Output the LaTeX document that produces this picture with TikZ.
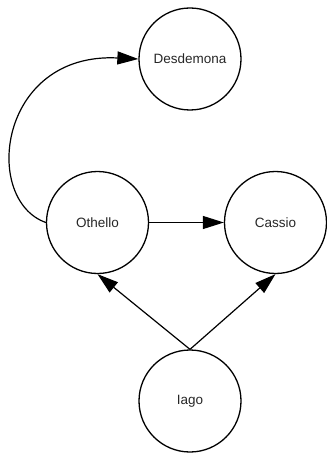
\documentclass[tikz,border=0pt]{standalone}
\usepackage{fontspec}
\setmainfont{Liberation Sans}
\usetikzlibrary{arrows.meta}
\begin{document}
\begin{tikzpicture}[x=1pt,y=-1pt,
  person/.style={circle,draw=black,line width=1.3pt,minimum size=102pt,inner sep=0pt,font=\fontsize{13.5}{15}\selectfont,text=black!85},
  rel/.style={line width=1.2pt,-{Triangle[length=21pt,width=13pt]}}]
\useasboundingbox (0,0) rectangle (326,454);
\node[person] (des) at (190,59) {Desdemona};
\node[person] (oth) at (97.5,222.5) {Othello};
\node[person] (cas) at (275.5,222.5) {Cassio};
\node[person] (iago) at (190,401) {Iago};
\draw[rel] (oth.east) -- (cas.west);
\draw[rel] (oth.west) .. controls (-18,200) and (-2,52) .. (des.west);
\draw[rel] (iago.north) -- (oth.south);
\draw[rel] (iago.north) -- (cas.south);
\end{tikzpicture}
\end{document}
